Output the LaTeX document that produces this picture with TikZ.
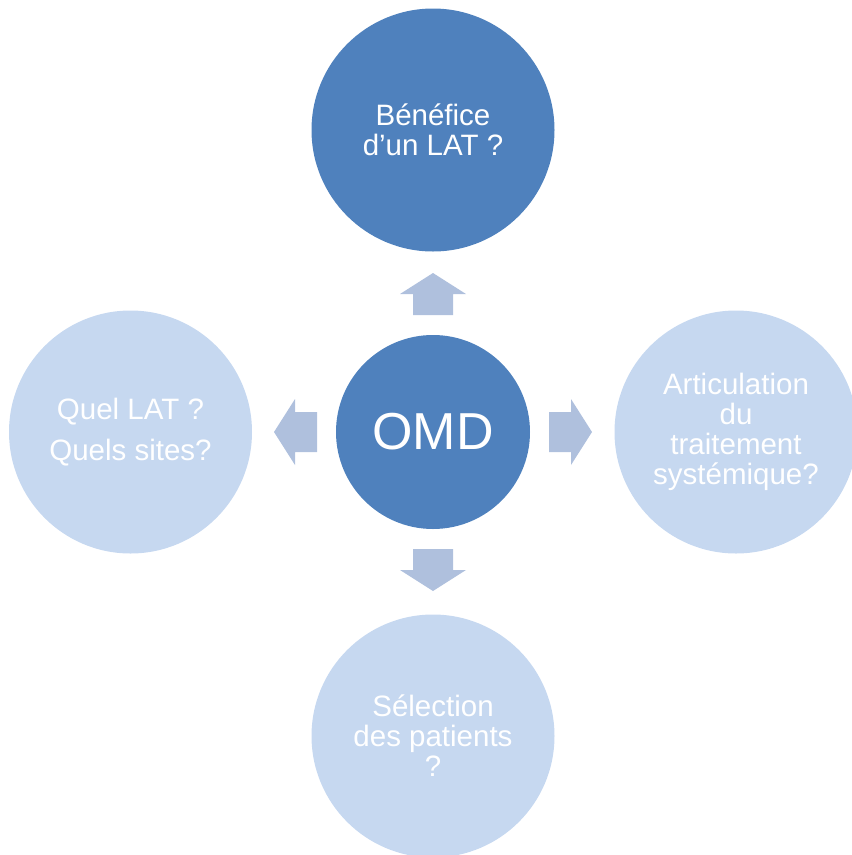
\documentclass[tikz,border=0pt]{standalone}
\usepackage{fontspec}
\setmainfont{Liberation Sans}
\definecolor{darkblue}{HTML}{4F81BD}
\definecolor{lightblue}{HTML}{C6D8F0}
\definecolor{arrowblue}{HTML}{AFC0DD}
\begin{document}
\begin{tikzpicture}[x=1pt,y=-1pt,
  bubble/.style={circle,minimum size=243pt,inner sep=0pt,text=white,align=center,
    font=\fontsize{29.5}{30}\selectfont},
  hub/.style={circle,minimum size=194pt,inner sep=0pt,fill=darkblue,text=white,
    font=\fontsize{52}{56}\selectfont},
  barrow/.style={fill=arrowblue,draw=none}]
\useasboundingbox (0,0) rectangle (852,855);
\clip (0,0) rectangle (852,855);
\node[hub] (omd) at (433,432) {OMD};
\node[bubble,fill=darkblue] (top) at (433,130) {Bénéfice\\d’un LAT ?};
\node[bubble,fill=lightblue] (left) at (130.5,432) {Quel LAT ?\\[11pt]Quels sites?};
\node[bubble,fill=lightblue] (right) at (736,432) {Articulation\\du\\traitement\\systémique?};
\node[bubble,fill=lightblue] (bottom) at (433,736) {Sélection\\des patients\\?};
% up arrow
\fill[barrow] (413,315) -- (413,294) -- (400,294) -- (433,273) -- (466,294) -- (453,294) -- (453,315) -- cycle;
% down arrow
\fill[barrow] (413,549) -- (413,570) -- (400,570) -- (433,591) -- (466,570) -- (453,570) -- (453,549) -- cycle;
% right arrow
\fill[barrow] (549,412) -- (571,412) -- (571,399) -- (592,432) -- (571,465) -- (571,452) -- (549,452) -- cycle;
% left arrow
\fill[barrow] (317,412) -- (295,412) -- (295,399) -- (274,432) -- (295,465) -- (295,452) -- (317,452) -- cycle;
\end{tikzpicture}
\end{document}
